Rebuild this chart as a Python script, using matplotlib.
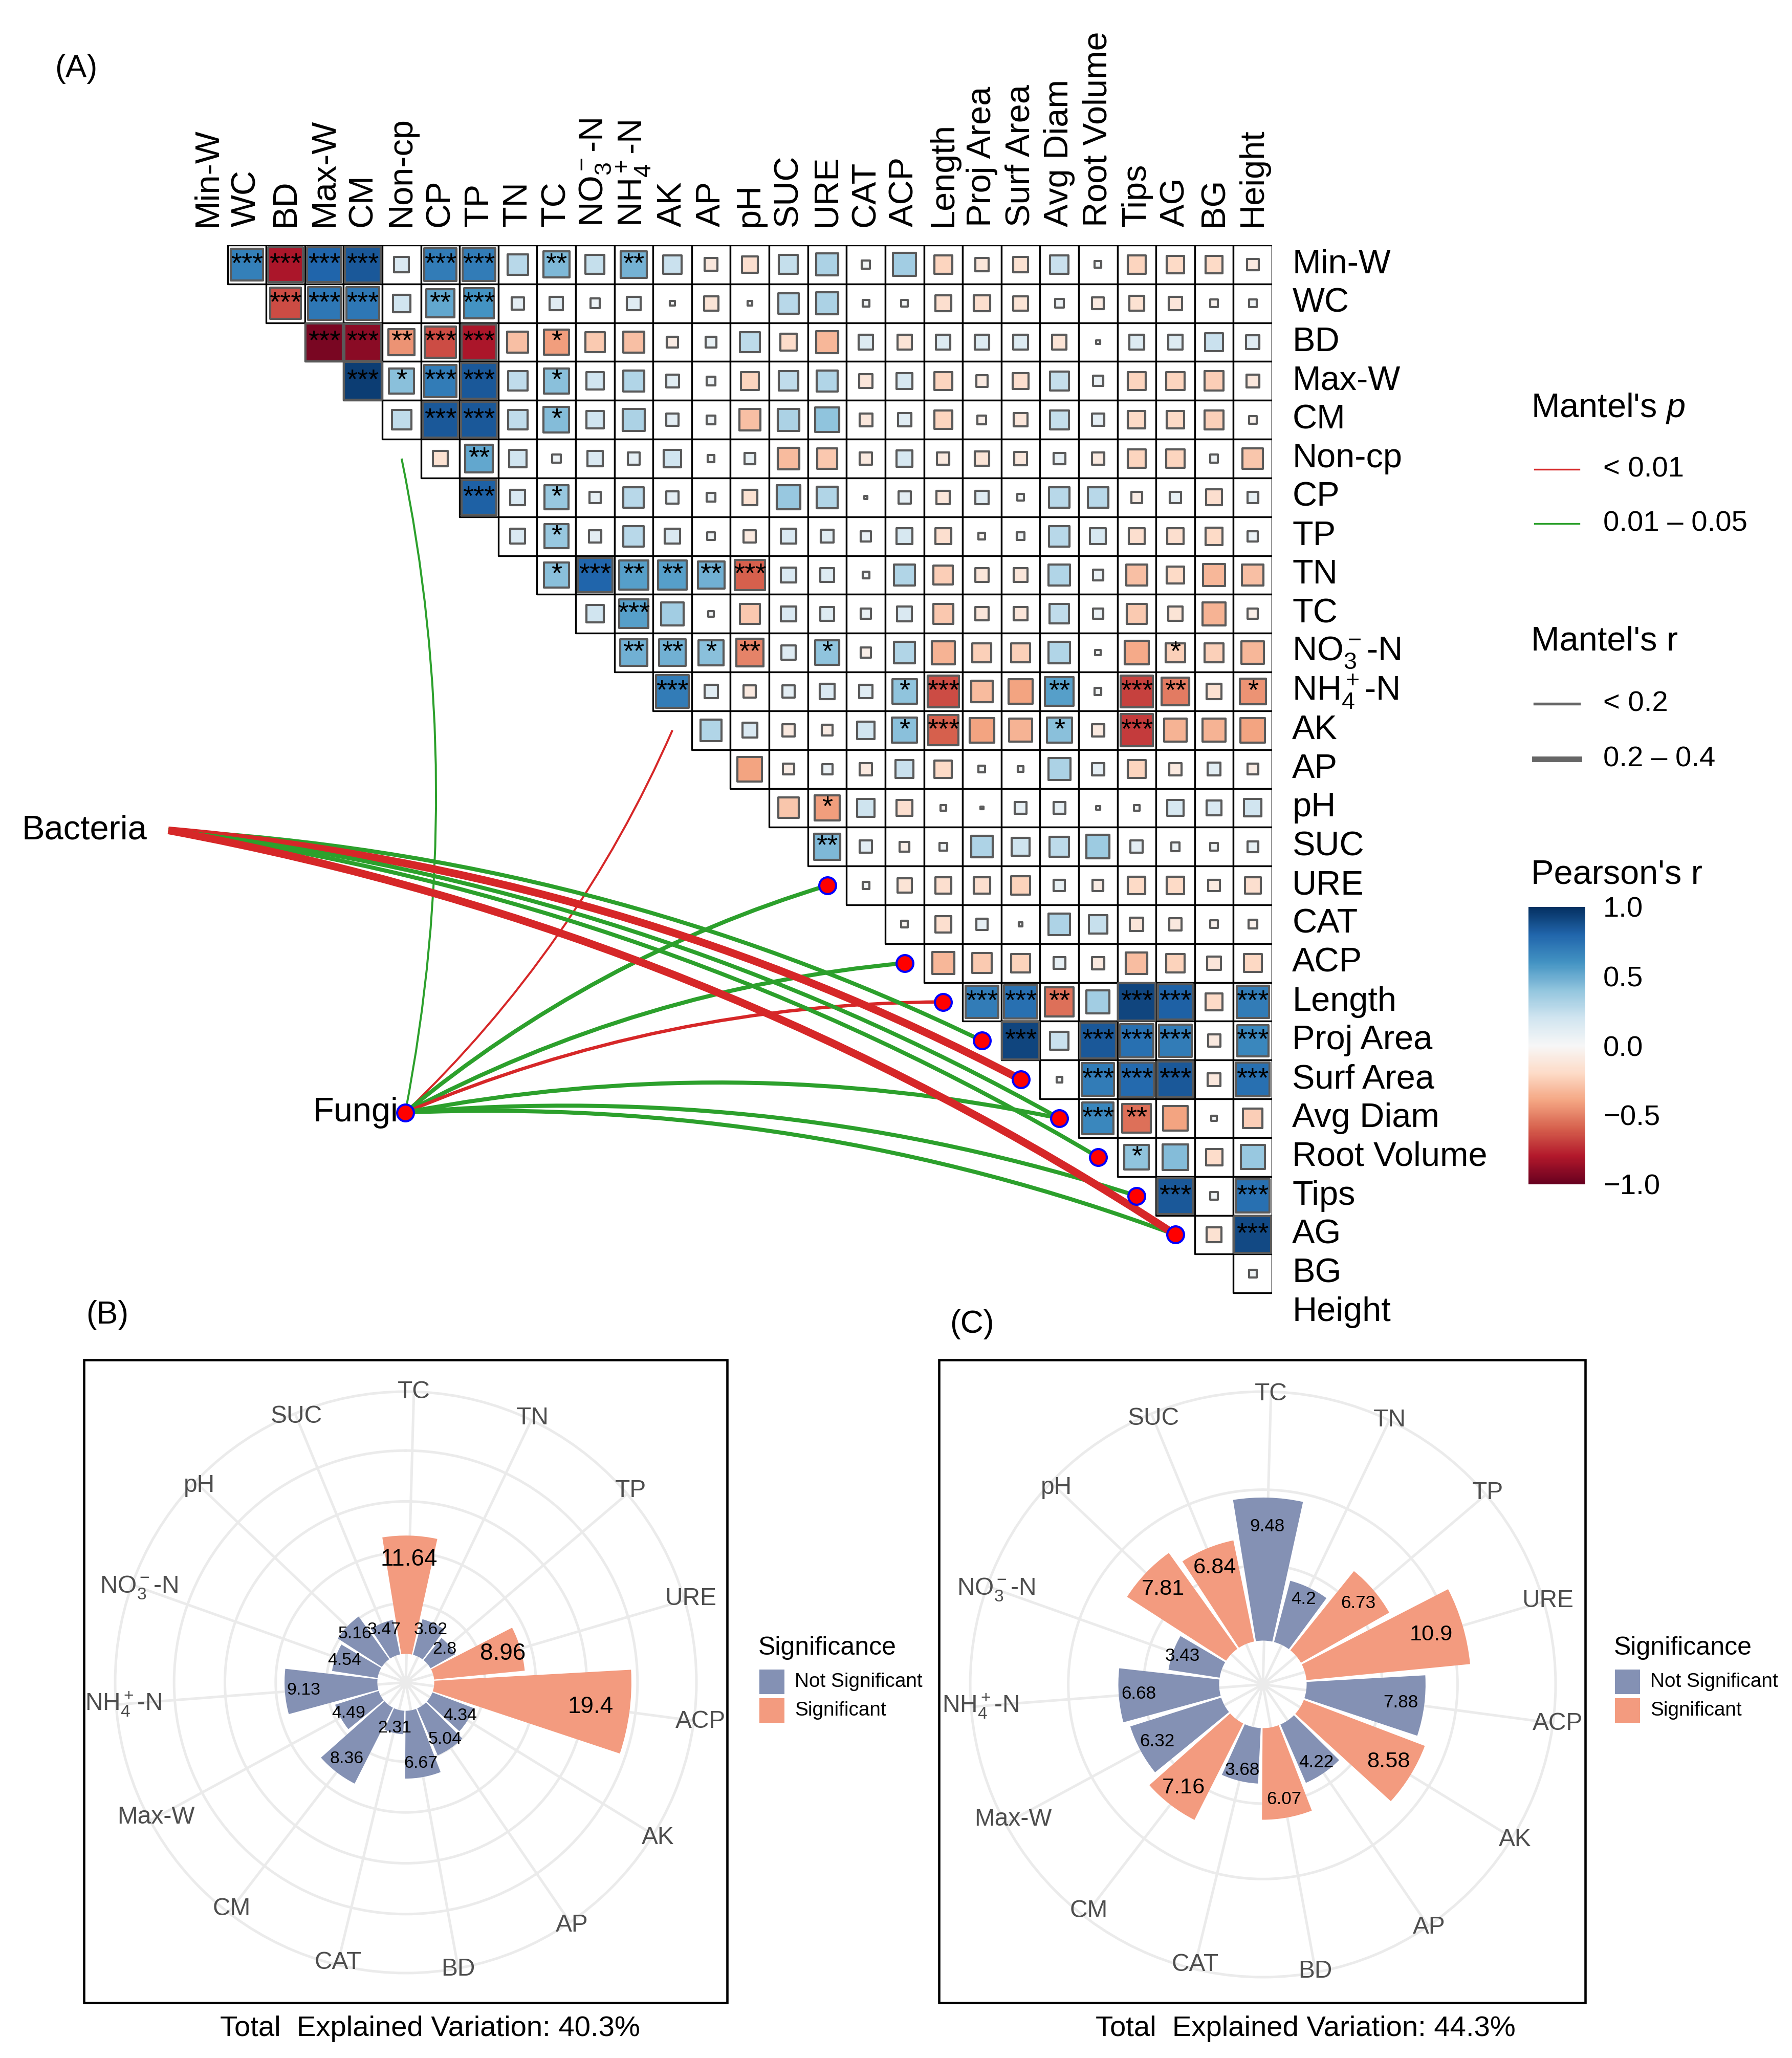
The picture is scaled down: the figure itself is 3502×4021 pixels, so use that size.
import numpy as np
import matplotlib
matplotlib.use("Agg")
import matplotlib.pyplot as plt
from matplotlib.patches import Rectangle, PathPatch
from matplotlib.path import Path
from matplotlib.collections import PatchCollection
import matplotlib.colors as mcolors
from matplotlib.cm import ScalarMappable

plt.rcParams['font.family'] = ['Liberation Sans', 'DejaVu Sans']
plt.rcParams['mathtext.fontset'] = 'custom'
plt.rcParams['mathtext.rm'] = 'Liberation Sans'
plt.rcParams['mathtext.it'] = 'Liberation Sans:italic'
plt.rcParams['mathtext.bf'] = 'Liberation Sans:bold'
plt.rcParams['mathtext.sf'] = 'Liberation Sans'
plt.rcParams['mathtext.default'] = 'regular'

# ---------------------------------------------------------------- data
variables = ['Min-W', 'WC', 'BD', 'Max-W', 'CM', 'Non-cp', 'CP', 'TP', 'TN', 'TC',
             'NO3-N', 'NH4-N', 'AK', 'AP', 'pH', 'SUC', 'URE', 'CAT', 'ACP',
             'Length', 'Proj Area', 'Surf Area', 'Avg Diam', 'Root Volume', 'Tips',
             'AG', 'BG', 'Height']
var_labels = {'NO3-N': r'NO$_3^-$-N', 'NH4-N': r'NH$_4^+$-N'}

# Pearson's r, upper triangle: row i holds the columns i+1 ... 27
r_rows = [
    [0.68, -0.82, 0.80, 0.85, 0.15, 0.70, 0.70, 0.28, 0.45, 0.24, 0.47, 0.22, -0.11, -0.17, 0.24, 0.32, 0.045, 0.35, -0.22, -0.12, -0.15, 0.22, 0.03, -0.22, -0.20, -0.20, -0.09],
    [-0.65, 0.72, 0.72, 0.20, 0.52, 0.60, 0.10, 0.12, 0.06, 0.12, 0.015, -0.14, 0.015, 0.28, 0.32, 0.03, 0.03, -0.17, -0.17, -0.14, 0.05, -0.09, -0.15, -0.12, -0.04, 0.04],
    [-0.95, -0.90, -0.45, -0.65, -0.82, -0.30, -0.42, -0.26, -0.30, -0.08, 0.08, 0.26, -0.18, -0.33, 0.14, -0.14, 0.14, 0.14, 0.14, -0.14, 0.01, 0.14, 0.14, 0.22, 0.12],
    [0.95, 0.42, 0.70, 0.85, 0.25, 0.42, 0.20, 0.30, 0.11, 0.05, -0.22, 0.25, 0.30, -0.12, 0.17, -0.22, -0.09, -0.17, 0.24, 0.07, -0.22, -0.22, -0.25, -0.11],
    [0.25, 0.85, 0.85, 0.25, 0.43, 0.20, 0.32, 0.10, 0.05, -0.30, 0.32, 0.40, -0.11, 0.12, -0.22, -0.05, -0.12, 0.24, 0.10, -0.20, -0.20, -0.24, -0.04],
    [-0.15, 0.52, 0.20, 0.05, 0.15, 0.10, 0.20, 0.03, 0.08, -0.32, -0.27, -0.10, 0.17, -0.10, -0.14, -0.11, 0.09, -0.10, -0.22, -0.22, 0.04, -0.28],
    [0.82, 0.15, 0.38, 0.08, 0.28, 0.10, 0.05, -0.15, 0.38, 0.30, 0.005, 0.10, -0.12, 0.12, 0.03, 0.28, 0.28, -0.08, 0.08, -0.17, 0.08],
    [0.15, 0.38, 0.10, 0.28, 0.15, 0.04, -0.10, 0.15, 0.11, 0.07, 0.17, -0.17, -0.03, 0.04, 0.28, 0.17, -0.17, -0.17, -0.20, 0.07],
    [0.42, 0.80, 0.55, 0.55, 0.48, -0.60, 0.15, 0.13, 0.03, 0.30, -0.25, -0.12, -0.12, 0.30, 0.07, -0.30, -0.20, -0.33, -0.30],
    [0.20, 0.55, 0.35, 0.02, -0.27, 0.15, 0.13, 0.07, 0.15, -0.27, -0.12, -0.12, 0.25, 0.07, -0.26, -0.14, -0.35, -0.07],
    [0.48, 0.48, 0.42, -0.50, 0.13, 0.40, -0.07, 0.30, -0.35, -0.24, -0.24, 0.30, 0.02, -0.38, -0.24, -0.24, -0.33],
    [0.70, 0.12, -0.10, 0.10, 0.15, 0.12, 0.40, -0.65, -0.32, -0.40, 0.55, 0.03, -0.68, -0.52, -0.15, -0.45],
    [0.30, 0.15, -0.10, -0.08, 0.20, 0.42, -0.60, -0.40, -0.35, 0.42, -0.10, -0.70, -0.35, -0.35, -0.40],
    [-0.40, -0.08, 0.07, -0.10, 0.22, -0.20, 0.03, 0.02, 0.32, 0.10, -0.22, -0.10, 0.11, -0.08],
    [-0.28, -0.42, 0.21, -0.17, -0.02, 0.005, 0.09, 0.09, 0.01, 0.02, 0.17, 0.15, 0.20],
    [0.45, 0.10, -0.06, 0.04, 0.31, 0.21, 0.26, 0.36, 0.10, 0.05, 0.04, 0.08],
    [0.03, -0.14, -0.17, -0.17, -0.23, 0.08, -0.08, -0.20, -0.20, -0.09, -0.17],
    [-0.03, -0.17, 0.09, 0.01, 0.31, 0.23, -0.12, -0.10, -0.04, -0.05],
    [-0.33, -0.26, -0.23, 0.09, -0.10, -0.31, -0.23, -0.12, -0.21],
    [0.70, 0.75, -0.55, 0.35, 0.92, 0.82, -0.20, 0.70],
    [0.92, 0.22, 0.85, 0.75, 0.70, -0.10, 0.65],
    [0.02, 0.70, 0.78, 0.85, -0.11, 0.75],
    [0.65, -0.55, -0.40, 0.02, -0.25],
    [0.40, 0.43, -0.18, 0.38],
    [0.85, 0.04, 0.75],
    [-0.15, 0.90],
    [0.04],
]
# number of significance stars, same layout as r_rows
sig_rows = [
    "333303302020000000000000000",
    "33302300000000000000000000",
    "3323301000000000000000000",
    "313301000000000000000000",
    "03301000000000000000000",
    "0200000000000000000000",
    "301000000000000000000",
    "01000000000000000000",
    "1322230000000000000",
    "030000000000000000",
    "22120100000000100",
    "3000001300203201",
    "000001300103000",
    "00000000000000",
    "0100000000000",
    "200000000000",
    "00000000000",
    "0000000000",
    "000000000",
    "33203303",
    "3033303",
    "033303",
    "32000",
    "1000",
    "303",
    "03",
    "0",
]

species = ['Bacteria', 'Fungi']
species_x = [-0.53, 5.595]
species_y = [15.08, 22.35]

link_from = ['Fungi', 'Fungi', 'Fungi', 'Fungi', 'Fungi', 'Fungi', 'Fungi', 'Fungi',
             'Bacteria', 'Bacteria', 'Bacteria', 'Bacteria', 'Bacteria']
link_to = ['Non-cp', 'AK', 'URE', 'ACP', 'Length', 'Avg Diam', 'Tips', 'AG',
           'Proj Area', 'Surf Area', 'Avg Diam', 'Root Volume', 'AG']
link_p = ['0.01 – 0.05', '< 0.01', '0.01 – 0.05', '0.01 – 0.05', '< 0.01', '0.01 – 0.05',
          '0.01 – 0.05', '0.01 – 0.05', '0.01 – 0.05', '< 0.01', '0.01 – 0.05',
          '0.01 – 0.05', '< 0.01']
link_r = [0.08, 0.08, 0.16, 0.16, 0.13, 0.16, 0.16, 0.16, 0.16, 0.30, 0.16, 0.16, 0.30]
link_bend = [-1, -1, 1, 1, 1, 1, 1, 1, 1, 1, 1, 1, 1]
node_vars = ['URE', 'ACP', 'Length', 'Proj Area', 'Surf Area', 'Avg Diam',
             'Root Volume', 'Tips', 'AG']

rda_factors = ['ACP', 'AK', 'AP', 'BD', 'CAT', 'CM', 'Max-W', 'NH4-N', 'NO3-N',
               'pH', 'SUC', 'TC', 'TN', 'TP', 'URE']
rda_b_values = [19.4, 4.34, 5.04, 6.67, 2.31, 8.36, 4.49, 9.13, 4.54, 5.16, 3.47, 11.64, 3.62, 2.8, 8.96]
rda_b_sig = [1, 0, 0, 0, 0, 0, 0, 0, 0, 0, 0, 1, 0, 0, 1]
rda_b_big = [1, 0, 0, 0, 0, 0, 0, 0, 0, 0, 0, 1, 0, 0, 1]
rda_c_values = [7.88, 8.58, 4.22, 6.07, 3.68, 7.16, 6.32, 6.68, 3.43, 7.81, 6.84, 9.48, 4.2, 6.73, 10.9]
rda_c_sig = [0, 1, 0, 1, 0, 1, 0, 0, 0, 1, 1, 0, 0, 1, 1]
rda_c_big = [0, 1, 0, 0, 0, 1, 0, 0, 0, 1, 1, 0, 0, 0, 1]
total_explained = ['40.3%', '44.3%']

# ---------------------------------------------------------------- figure
W, H, DPI = 3502, 4021, 300
fig = plt.figure(figsize=(W / DPI, H / DPI), dpi=DPI)
fig.patch.set_facecolor('white')


def px_box(x0, y0, x1, y1):
    return [x0 / W, 1 - y1 / H, (x1 - x0) / W, (y1 - y0) / H]


ax_o = fig.add_axes([0, 0, 1, 1], zorder=0)
ax_o.set_xlim(0, W)
ax_o.set_ylim(H, 0)
ax_o.axis('off')

# ---------------------------------------------------------------- heatmap
n = len(variables)
ax_h = fig.add_axes(px_box(369, 479, 2486, 2602), zorder=3)
ax_h.set_xlim(0, n)
ax_h.set_ylim(n, 0)
ax_h.axis('off')

cmap = plt.get_cmap('RdBu')
norm = mcolors.Normalize(-1, 1)
cells, squares, fcs = [], [], []
for i, (row, sig) in enumerate(zip(r_rows, sig_rows)):
    assert len(row) == n - 1 - i and len(sig) == len(row)
    for k, r in enumerate(row):
        j = i + 1 + k
        cells.append(Rectangle((j, i), 1, 1))
        s = np.sqrt(abs(r))
        squares.append(Rectangle((j + 0.5 - s / 2, i + 0.5 - s / 2), s, s))
        fcs.append(cmap(norm(r)))
        ns = int(sig[k])
        if ns:
            ax_h.text(j + 0.5, i + 0.5, '*' * ns, ha='center', va='center',
                      fontsize=13, zorder=5, clip_on=False)
ax_h.add_collection(PatchCollection(cells, facecolor='white', edgecolor='black',
                                    linewidth=0.8, zorder=1))
ax_h.add_collection(PatchCollection(squares, facecolor=fcs, edgecolor='#5a5a5a',
                                    linewidth=1.0, zorder=2))

for j, v in enumerate(variables):
    lab = var_labels.get(v, v)
    ax_h.text(j + 0.5, -0.47, lab, rotation=90, ha='center', va='bottom',
              fontsize=16, clip_on=False)
    ax_h.text(n + 0.52, j + 0.5, lab, ha='left', va='center', fontsize=16, clip_on=False)

# ---------------------------------------------------------------- mantel links
idx = {v: i for i, v in enumerate(variables)}
sp = {s: (x, y) for s, x, y in zip(species, species_x, species_y)}
pcol = {'< 0.01': '#D62728', '0.01 – 0.05': '#2CA02C'}
for f, t, p, r, b in zip(link_from, link_to, link_p, link_r, link_bend):
    x0, y0 = sp[f]
    x1 = y1 = idx[t] + 0.5
    dx, dy = x1 - x0, y1 - y0
    cx = (x0 + x1) / 2 + 0.1 * b * dy
    cy = (y0 + y1) / 2 - 0.1 * b * dx
    path = Path([(x0, y0), (cx, cy), (x1, y1)], [Path.MOVETO, Path.CURVE3, Path.CURVE3])
    ax_h.add_patch(PathPatch(path, fill=False, edgecolor=pcol[p], lw=r * 12,
                             capstyle='butt', zorder=4, clip_on=False))

nd = [idx[v] + 0.5 for v in node_vars]
ax_h.scatter(nd, nd, s=62, c='red', edgecolors='blue', linewidths=1.0, zorder=6, clip_on=False)
ax_h.scatter([species_x[1]], [species_y[1]], s=62, c='red', edgecolors='blue',
             linewidths=1.0, zorder=6, clip_on=False)
ax_h.text(species_x[0] - 0.555, species_y[0], species[0], ha='right', va='center',
          fontsize=16, clip_on=False)
ax_h.text(species_x[1] - 0.175, species_y[1], species[1], ha='right', va='center',
          fontsize=16, clip_on=False)

# ---------------------------------------------------------------- legends (A)
ax_o.text(2992, 798, "Mantel's $\\mathit{p}$", fontsize=16, ha='left', va='center')
ax_o.plot([2999, 3086], [917, 917], color=pcol['< 0.01'], lw=0.8)
ax_o.text(3133, 917, '< 0.01', fontsize=13.5, ha='left', va='center')
ax_o.plot([2999, 3086], [1023, 1023], color=pcol['0.01 – 0.05'], lw=0.8)
ax_o.text(3133, 1023, '0.01 – 0.05', fontsize=13.5, ha='left', va='center')

ax_o.text(2992, 1253, "Mantel's r", fontsize=16, ha='left', va='center')
ax_o.plot([2999, 3086], [1375, 1375], color='#666666', lw=1.3)
ax_o.text(3133, 1375, '< 0.2', fontsize=13.5, ha='left', va='center')
ax_o.plot([2999, 3086], [1483, 1483], color='#666666', lw=2.6)
ax_o.text(3133, 1483, '0.2 – 0.4', fontsize=13.5, ha='left', va='center')

ax_o.text(2992, 1709, "Pearson's r", fontsize=16, ha='left', va='center')
cax = fig.add_axes(px_box(2987, 1772, 3098, 2314), zorder=2)
cb = fig.colorbar(ScalarMappable(norm=norm, cmap=cmap), cax=cax)
cb.outline.set_visible(False)
cb.set_ticks([-1, -0.5, 0, 0.5, 1])
cb.set_ticklabels(['\u22121.0', '\u22120.5', '0.0', '0.5', '1.0'])
cax.tick_params(length=0, pad=8.4, labelsize=13.5)

ax_o.text(149, 134, '(A)', fontsize=15, ha='center', va='center')
ax_o.text(210, 2569, '(B)', fontsize=15, ha='center', va='center')
ax_o.text(1899, 2587, '(C)', fontsize=15, ha='center', va='center')

# ---------------------------------------------------------------- polar panels
NS_COL, S_COL = '#8491B4', '#F39B7F'
theta0, step = 97.6, 360.0 / len(rda_factors)


def polar_panel(center, R, rlim, grid_r, values, sig, big, fs_big, fs_small):
    cxp, cyp = center
    ax = fig.add_axes(px_box(cxp - R, cyp - R, cxp + R, cyp + R), projection='polar', zorder=1)
    ax.set_theta_zero_location('N')
    ax.set_theta_direction(-1)
    theta = np.deg2rad((theta0 + step * np.arange(len(values))) % 360.0)
    ax.set_axisbelow(True)
    ax.bar(theta, values, width=np.deg2rad(step * 0.9), bottom=0,
           color=[S_COL if s else NS_COL for s in sig], edgecolor='none', zorder=2)
    ax.set_xticks(theta)
    ax.set_xticklabels([])
    ax.set_yticks(grid_r)
    ax.set_yticklabels([])
    ax.set_xlim(0, 2 * np.pi)
    ax.set_ylim(*rlim)
    ax.tick_params(length=0)
    ax.grid(True, color='#EBEBEB', lw=1.2)
    ax.spines['polar'].set_color('#EBEBEB')
    ax.spines['polar'].set_linewidth(1.2)
    for th, v, bg in zip(theta, values, big):
        ax.text(th, 0.8 * v, f'{v:g}', ha='center', va='center',
                fontsize=fs_big if bg else fs_small, color='black', zorder=4)
    for th, name in zip(theta, rda_factors):
        rpx = 567 + 14 * np.sin(th)
        rd = rlim[0] + rpx / R * (rlim[1] - rlim[0])
        ax.text(th, rd, var_labels.get(name, name), ha='center', va='center',
                fontsize=11.5, color='#4D4D4D', clip_on=False, zorder=4)
    return ax


polar_panel((793, 3287), 568, (-2.8, 25.8), [5, 10, 15, 20], rda_b_values, rda_b_sig,
            rda_b_big, 11, 8.1)
polar_panel((2468, 3291), 572, (-2.9, 16.5), [5, 10], rda_c_values, rda_c_sig,
            rda_c_big, 10.4, 8.4)

ax_o.add_patch(Rectangle((164, 2657), 1257, 1256, fill=False, lw=1.1, ec='black'))
ax_o.add_patch(Rectangle((1835, 2657), 1263, 1256, fill=False, lw=1.1, ec='black'))
ax_o.text(840, 3964, 'Total  Explained Variation: ' + total_explained[0], fontsize=13.5,
          ha='center', va='center')
ax_o.text(2551, 3964, 'Total  Explained Variation: ' + total_explained[1], fontsize=13.5,
          ha='center', va='center')

for lx in (1482, 3154):
    ax_o.text(lx, 3220, 'Significance', fontsize=12, ha='left', va='center')
    ax_o.add_patch(Rectangle((lx + 2, 3262), 49, 48, fc=NS_COL, ec='none'))
    ax_o.add_patch(Rectangle((lx + 2, 3318), 49, 48, fc=S_COL, ec='none'))
    ax_o.text(lx + 71, 3286, 'Not Significant', fontsize=9.3, ha='left', va='center')
    ax_o.text(lx + 71, 3342, 'Significant', fontsize=9.3, ha='left', va='center')

fig.savefig('out.png', dpi=DPI, facecolor='white')
